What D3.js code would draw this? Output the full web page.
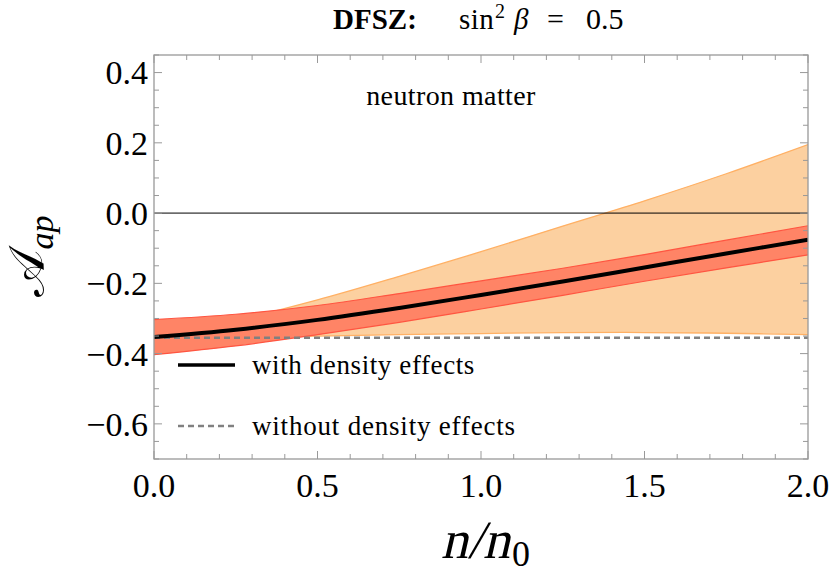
<!DOCTYPE html>
<html><head><meta charset="utf-8">
<script src="https://cdn.jsdelivr.net/npm/d3@7"></script>
<style>body{margin:0;background:#fff}svg{display:block}</style>
</head><body>
<svg id="c" width="830" height="586"></svg>
<script>
// ---- data ----
const density = [0, 0.25, 0.5, 0.75, 1.0, 1.25, 1.5, 1.75, 2.0];
const central = [-0.353, -0.332, -0.304, -0.270, -0.233, -0.195, -0.155, -0.115, -0.076];
const redUpper = [-0.303, -0.288, -0.263, -0.229, -0.193, -0.157, -0.118, -0.077, -0.036];
const redLower = [-0.403, -0.378, -0.346, -0.311, -0.273, -0.234, -0.194, -0.156, -0.119];
const orangeUpper = [-0.345, -0.305, -0.247, -0.180, -0.110, -0.037, 0.035, 0.112, 0.195];
const orangeLower = [-0.360, -0.355, -0.350, -0.346, -0.343, -0.340, -0.340, -0.342, -0.346];
const noDensityValue = -0.355;
const xTicks = [0, 0.5, 1.0, 1.5, 2.0];
const xTickLabels = ["0.0", "0.5", "1.0", "1.5", "2.0"];
const yTicks = [0.4, 0.2, 0.0, -0.2, -0.4, -0.6];
const yTickLabels = ["0.4", "0.2", "0.0", "\u22120.2", "\u22120.4", "\u22120.6"];
const legendLabels = ["with density effects", "without density effects"];

const svg = d3.select("#c");
const L = 154, R = 808, T = 55, B = 459;
const x = d3.scaleLinear().domain([0, 2]).range([L, R]);
const y = d3.scaleLinear().domain([-0.7, 0.45]).range([B, T]);
const serif = "Liberation Serif";

svg.append("clipPath").attr("id","pc").append("rect")
  .attr("x", L).attr("y", T).attr("width", R-L).attr("height", B-T);
const g = svg.append("g").attr("clip-path","url(#pc)");

const curve = d3.curveCatmullRom;
const area = (up, lo) => d3.area().curve(curve)
  .x((d,i)=>x(density[i])).y0((d,i)=>y(lo[i])).y1((d,i)=>y(up[i]))(density);
const line = (vals) => d3.line().curve(curve).x((d,i)=>x(density[i])).y((d,i)=>y(vals[i]))(density);

// orange band
g.append("path").attr("d", area(orangeUpper, orangeLower)).attr("fill", "rgb(252,208,160)");
g.append("path").attr("d", line(orangeUpper)).attr("fill","none").attr("stroke","rgb(255,176,100)").attr("stroke-width",1.3);
g.append("path").attr("d", line(orangeLower)).attr("fill","none").attr("stroke","rgb(255,176,100)").attr("stroke-width",1.3);
// zero line
g.append("line").attr("x1", x(0)).attr("x2", x(2)).attr("y1", y(0)).attr("y2", y(0))
  .attr("stroke","#000").attr("stroke-width",1);
// red band
g.append("path").attr("d", area(redUpper, redLower)).attr("fill", "rgb(255,132,102)");
g.append("path").attr("d", line(redUpper)).attr("fill","none").attr("stroke","rgb(255,85,65)").attr("stroke-width",1.2);
g.append("path").attr("d", line(redLower)).attr("fill","none").attr("stroke","rgb(255,85,65)").attr("stroke-width",1.2);
// dashed no-density line
g.append("line").attr("x1", x(0)).attr("x2", x(2)).attr("y1", y(noDensityValue)).attr("y2", y(noDensityValue))
  .attr("stroke","#808080").attr("stroke-width",2.5).attr("stroke-dasharray","6,4");
// central line
g.append("path").attr("d", line(central)).attr("fill","none").attr("stroke","#000").attr("stroke-width",4);

// frame
const axisColor = "#999";
svg.append("rect").attr("x", L).attr("y", T).attr("width", R-L).attr("height", B-T)
  .attr("fill","none").attr("stroke", axisColor).attr("stroke-width",1.3);

// ticks
const yMinor = d3.range(-0.7, 0.451, 0.05).map(v => Math.round(v*100)/100);
yMinor.forEach(v => {
  const major = yTicks.some(t => Math.abs(t - v) < 1e-6);
  const len = major ? 8 : 5;
  svg.append("line").attr("x1", L).attr("x2", L+len).attr("y1", y(v)).attr("y2", y(v)).attr("stroke", axisColor).attr("stroke-width",1);
  svg.append("line").attr("x1", R).attr("x2", R-len).attr("y1", y(v)).attr("y2", y(v)).attr("stroke", axisColor).attr("stroke-width",1);
});
const xMinor = d3.range(0, 2.001, 0.1).map(v => Math.round(v*10)/10);
xMinor.forEach(v => {
  const major = xTicks.some(t => Math.abs(t - v) < 1e-6);
  const len = major ? 8 : 5;
  svg.append("line").attr("y1", B).attr("y2", B-len).attr("x1", x(v)).attr("x2", x(v)).attr("stroke", axisColor).attr("stroke-width",1);
  svg.append("line").attr("y1", T).attr("y2", T+len).attr("x1", x(v)).attr("x2", x(v)).attr("stroke", axisColor).attr("stroke-width",1);
});

// tick labels
yTicks.forEach((v,i) => {
  svg.append("text").attr("x", 148).attr("y", y(v)).attr("dy","0.35em").attr("text-anchor","end")
    .attr("font-family", serif).attr("font-size", 34).attr("fill","#000").text(yTickLabels[i]);
});
xTicks.forEach((v,i) => {
  svg.append("text").attr("x", x(v)).attr("y", 497).attr("text-anchor","middle")
    .attr("font-family", serif).attr("font-size", 34).attr("fill","#000").text(xTickLabels[i]);
});

// axis labels (synthetic italic via skew)
svg.append("text").attr("transform","translate(510,558) skewX(-13)").attr("text-anchor","end")
  .attr("font-family", serif).attr("font-size", 54).attr("fill","#000").text("n/n");
svg.append("text").attr("x", 512).attr("y", 566).attr("font-family", serif).attr("font-size", 36)
  .attr("fill","#000").text("0");

const yl = svg.append("text").attr("transform","translate(44,256) rotate(-90)").attr("text-anchor","middle")
  .attr("font-family", serif).attr("font-size", 50).attr("fill","#000");
yl.append("tspan").text("\uD835\uDC9C");
yl.append("tspan").attr("font-size", 34).attr("dy", 9).attr("font-style","italic").text("ap");

// title, pieces placed like the typeset original
const tFont = 29;
svg.append("text").attr("x", 333).attr("y", 29).attr("font-family", serif).attr("font-size", tFont)
  .attr("font-weight","bold").text("DFSZ:");
svg.append("text").attr("x", 459).attr("y", 29).attr("font-family", serif).attr("font-size", tFont)
  .attr("letter-spacing", 0.5).text("sin");
svg.append("text").attr("x", 495).attr("y", 18).attr("font-family", serif).attr("font-size", 20).text("2");
svg.append("text").attr("x", 514).attr("y", 29).attr("font-family", serif).attr("font-size", tFont)
  .attr("font-style","italic").text("\u03B2");
svg.append("text").attr("x", 547).attr("y", 29).attr("font-family", serif).attr("font-size", 30).text("=");
svg.append("text").attr("x", 586).attr("y", 29).attr("font-family", serif).attr("font-size", 30).text("0.5");

// annotation
svg.append("text").attr("x", 451).attr("y", 105).attr("text-anchor","middle")
  .attr("font-family", serif).attr("font-size", 28).attr("letter-spacing", 0.4).attr("fill","#000").text("neutron matter");

// legend
svg.append("line").attr("x1",178).attr("x2",235).attr("y1",365).attr("y2",365).attr("stroke","#000").attr("stroke-width",3.5);
svg.append("text").attr("x",252).attr("y",374).attr("font-family", serif).attr("font-size",27).attr("letter-spacing", 0.6).attr("fill","#000").text(legendLabels[0]);
svg.append("line").attr("x1",178).attr("x2",235).attr("y1",426).attr("y2",426).attr("stroke","#808080").attr("stroke-width",2.5).attr("stroke-dasharray","6,4");
svg.append("text").attr("x",252).attr("y",435).attr("font-family", serif).attr("font-size",27).attr("letter-spacing", 0.8).attr("fill","#000").text(legendLabels[1]);
</script>
</body></html>
